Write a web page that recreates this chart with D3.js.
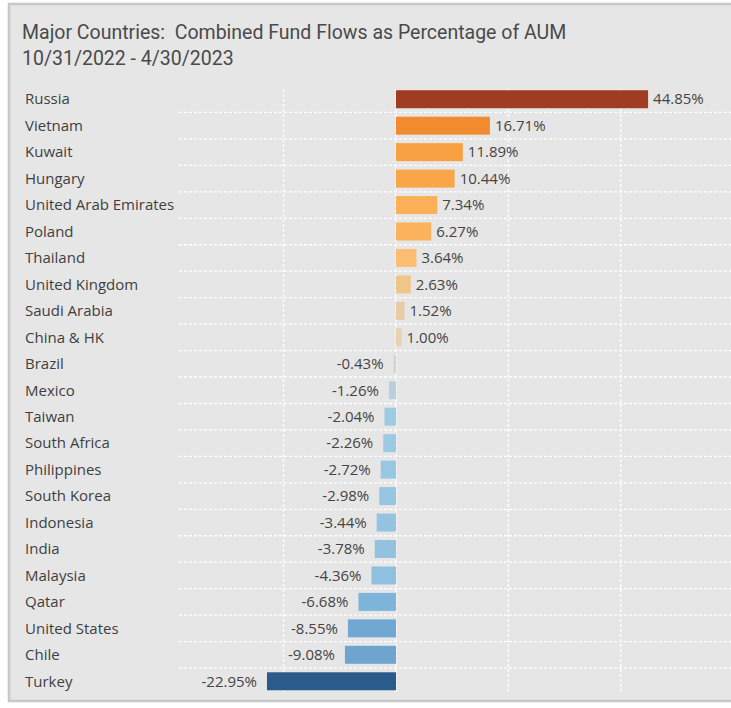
<!DOCTYPE html>
<meta charset="utf-8">
<style>
  body { margin: 0; background: #fff; font-family: Roboto, "Open Sans", sans-serif; }
  .title { fill: #4a4a4a; font-size: 19.5px; white-space: pre; }
  .country { fill: #3f3f3f; font-family: "Open Sans", sans-serif; font-size: 15px; }
  .value { fill: #444; font-family: "Open Sans", sans-serif; font-size: 15px; }
  .grid line { stroke: #fff; stroke-width: 1.3; stroke-dasharray: 3,2; }
</style>
<body>
<script src="https://d3js.org/d3.v7.min.js"></script>
<script>
// data
var countries = ["Russia", "Vietnam", "Kuwait", "Hungary", "United Arab Emirates", "Poland",
  "Thailand", "United Kingdom", "Saudi Arabia", "China & HK", "Brazil", "Mexico", "Taiwan",
  "South Africa", "Philippines", "South Korea", "Indonesia", "India", "Malaysia", "Qatar",
  "United States", "Chile", "Turkey"];
var flows = [44.85, 16.71, 11.89, 10.44, 7.34, 6.27, 3.64, 2.63, 1.52, 1.00, -0.43, -1.26, -2.04,
  -2.26, -2.72, -2.98, -3.44, -3.78, -4.36, -6.68, -8.55, -9.08, -22.95];
var gridTicks = [-20, 0, 20, 40];

var data = countries.map(function(c, i) { return {country: c, value: flows[i]}; });

var width = 731, height = 708;

var svg = d3.select("body").append("svg")
    .attr("width", width)
    .attr("height", height);

// panel
svg.append("rect")
    .attr("x", 9).attr("y", 4)
    .attr("width", 740).attr("height", 697)
    .attr("fill", "#e6e6e6")
    .attr("stroke", "#c8c8c8")
    .attr("stroke-width", 2.5);

svg.append("text").attr("class", "title")
    .attr("x", 22).attr("y", 39)
    .text("Major Countries:  Combined Fund Flows as Percentage of AUM");
svg.append("text").attr("class", "title")
    .attr("x", 22).attr("y", 65)
    .text("10/31/2022 - 4/30/2023");

var x = d3.scaleLinear()
    .domain([-38.6, 61.2])
    .range([179, 740]);

var y = d3.scaleBand()
    .domain(countries)
    .range([86, 694.5])
    .paddingInner(0.32)
    .paddingOuter(0.16);

// diverging orange / blue colours
var color = d3.scaleLinear()
    .domain([-22.95, -9, -6.7, -4.3, -2, -1.26, -0.4, 1, 1.5, 2.6, 3.6, 6.5, 11, 16.7, 44.85])
    .range(["#2b5b8a", "#6ea5cf", "#7db4d9", "#8fc0df", "#9ccbe2", "#b7d0dc", "#d0d5d5",
            "#e6d1b0", "#e8cca8", "#f0c58a", "#fbbd72", "#fbb15a", "#f9a545", "#f28b30", "#a03c22"])
    .clamp(true);

var step = y.step();

// grid
var grid = svg.append("g").attr("class", "grid");
grid.selectAll(".h")
    .data(countries.slice(1))
  .enter().append("line")
    .attr("class", "h")
    .attr("x1", x.range()[0]).attr("x2", x.range()[1])
    .attr("y1", function(d) { return y(d) - step * 0.16; })
    .attr("y2", function(d) { return y(d) - step * 0.16; });
grid.selectAll(".v")
    .data(gridTicks)
  .enter().append("line")
    .attr("class", "v")
    .attr("x1", x).attr("x2", x)
    .attr("y1", 89).attr("y2", 693);

// bars
svg.append("g").selectAll("rect")
    .data(data)
  .enter().append("rect")
    .attr("x", function(d) { return x(Math.min(0, d.value)); })
    .attr("y", function(d) { return y(d.country); })
    .attr("width", function(d) { return Math.abs(x(d.value) - x(0)); })
    .attr("height", y.bandwidth())
    .attr("fill", function(d) { return color(d.value); });

// country names
svg.append("g").selectAll("text")
    .data(data)
  .enter().append("text")
    .attr("class", "country")
    .attr("x", 25)
    .attr("y", function(d) { return y(d.country) + y.bandwidth() / 2; })
    .attr("dy", "0.35em")
    .text(function(d) { return d.country; });

// value labels, plain hyphen for the minus sign
var fmt = d3.formatLocale({decimal: ".", thousands: ",", grouping: [3], currency: ["", ""], minus: "-"}).format(".2f");
svg.append("g").selectAll("text")
    .data(data)
  .enter().append("text")
    .attr("class", "value")
    .attr("x", function(d) { return d.value >= 0 ? x(d.value) + 5 : x(d.value) - 10; })
    .attr("y", function(d) { return y(d.country) + y.bandwidth() / 2; })
    .attr("dy", "0.35em")
    .attr("text-anchor", function(d) { return d.value >= 0 ? "start" : "end"; })
    .text(function(d) { return fmt(d.value) + "%"; });
</script>
</body>
